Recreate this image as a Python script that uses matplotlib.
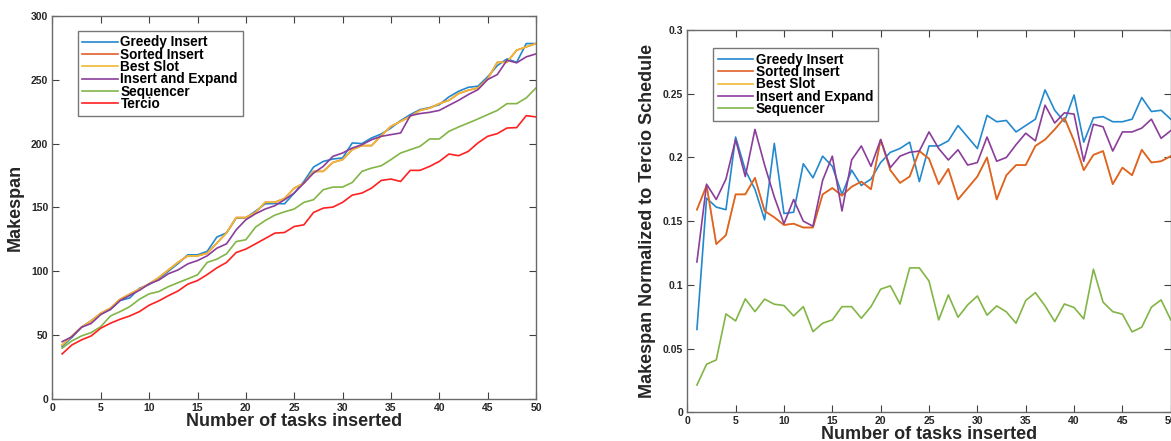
import numpy as np
import matplotlib
matplotlib.use('Agg')
import matplotlib.pyplot as plt

plt.rcParams['font.family'] = ['Liberation Sans', 'DejaVu Sans']
plt.rcParams['font.weight'] = 'bold'

tasks = np.arange(1, 51)

# left panel: makespan
greedy_ms = [41, 48, 56, 61, 66.5, 70, 77, 79, 86.6, 89.5,
             94, 100, 106, 112.8, 112.8, 115.5, 126.7, 130, 141.6, 141.8,
             147, 152.8, 153, 152.8, 161.2, 170.3, 181.6, 186, 187.9, 188.7,
             200.5, 200, 204.4, 207.5, 212.2, 218, 222.7, 226.6, 228.2, 230.5,
             236.6, 241, 244.1, 245, 252.3, 261.1, 266.4, 263.7, 278.4, 278.4]
best_ms = [42, 49, 56, 61, 67, 71, 78, 82, 86, 90,
           95, 101, 107, 112, 112, 114, 122, 130, 142, 142,
           146, 154, 154, 157, 165, 169, 178.2, 178.2, 185.2, 187.4,
           195.2, 198.4, 198.4, 206.2, 213.5, 217.4, 221.3, 226, 227.8, 231.3,
           233.9, 239.2, 241.8, 243.6, 250.7, 263.7, 263.7, 273.2, 275.8, 278.4]
sorted_ms = list(best_ms)
expand_ms = [44.7, 48.5, 56, 59, 66, 70, 77, 81, 85, 90,
             93, 98, 101, 105.7, 108.3, 112, 118, 121.4, 132.4, 140.3,
             145, 148.7, 151.3, 156, 161.2, 169, 176.9, 182.1, 190, 192.6,
             196.5, 199.1, 203, 205.7, 207, 208.3, 221.9, 223.5, 224.5, 226,
             230, 233.9, 238.4, 242.3, 250.2, 254.1, 265.3, 263.3, 268, 270.3]
seq_ms = [39.6, 45.3, 49.2, 51.8, 56.5, 64.9, 68.3, 72.2, 78, 82.2,
          84, 87.9, 91, 94, 97.1, 106.8, 109.4, 113.6, 123.2, 124.6,
          134.5, 139.7, 143.9, 146.5, 148.7, 153.9, 156, 163.8, 165.9, 165.9,
          169.5, 178.2, 180.8, 182.6, 187.4, 192.6, 195.2, 197.8, 203.6, 203.6,
          209.6, 213, 216.1, 219.3, 222.7, 226, 231.3, 231.3, 235.8, 243.6]
tercio_ms = [35.1, 42.1, 46.1, 49.2, 55.3, 59.2, 62.3, 64.9, 68.3, 73.3,
             76.7, 80.8, 84.5, 89.8, 92.6, 97.3, 102.6, 106.8, 114.6, 117.3,
             121.4, 125.6, 129.8, 130.3, 135, 136.3, 146, 149.4, 150.2, 153.9,
             159.6, 161.2, 165.1, 171.1, 172.2, 170.3, 179, 179, 182.1, 186,
             191.8, 190.5, 193.9, 200.5, 205.7, 207.8, 212.2, 212.5, 221.9, 220.9]

# right panel: normalized to Tercio
greedy_n = [0.065, 0.168, 0.161, 0.159, 0.216, 0.19, 0.175, 0.151, 0.211, 0.156,
            0.157, 0.195, 0.184, 0.201, 0.193, 0.171, 0.19, 0.178, 0.183, 0.196,
            0.204, 0.207, 0.212, 0.181, 0.209, 0.209, 0.213, 0.225, 0.216, 0.207,
            0.233, 0.228, 0.229, 0.22, 0.225, 0.23, 0.253, 0.237, 0.228, 0.249,
            0.212, 0.231, 0.232, 0.228, 0.228, 0.23, 0.247, 0.236, 0.237, 0.23]
sorted_n = [0.159, 0.178, 0.132, 0.139, 0.171, 0.171, 0.184, 0.158, 0.153, 0.147,
            0.148, 0.145, 0.145, 0.171, 0.176, 0.17, 0.177, 0.181, 0.175, 0.214,
            0.19, 0.18, 0.185, 0.205, 0.199, 0.179, 0.191, 0.167, 0.176, 0.185,
            0.2, 0.167, 0.186, 0.194, 0.194, 0.209, 0.214, 0.222, 0.231, 0.213,
            0.19, 0.202, 0.205, 0.179, 0.192, 0.186, 0.206, 0.196, 0.197, 0.201]
best_n = list(sorted_n)
expand_n = [0.118, 0.179, 0.167, 0.183, 0.214, 0.185, 0.222, 0.194, 0.169, 0.148,
            0.167, 0.15, 0.146, 0.182, 0.201, 0.158, 0.198, 0.209, 0.193, 0.214,
            0.192, 0.201, 0.204, 0.205, 0.22, 0.207, 0.198, 0.206, 0.194, 0.196,
            0.216, 0.197, 0.2, 0.21, 0.219, 0.213, 0.241, 0.227, 0.235, 0.234,
            0.197, 0.226, 0.224, 0.205, 0.22, 0.22, 0.223, 0.23, 0.215, 0.221]
seq_n = [0.0214, 0.0377, 0.0411, 0.0772, 0.0717, 0.089, 0.079, 0.0888, 0.0848, 0.0838,
         0.0756, 0.0829, 0.0633, 0.0699, 0.0725, 0.0829, 0.0829, 0.0738, 0.0829, 0.0966,
         0.0992, 0.085, 0.1133, 0.1133, 0.103, 0.0725, 0.0921, 0.0746, 0.0843, 0.0913,
         0.0762, 0.0835, 0.0788, 0.0699, 0.0877, 0.0939, 0.0835, 0.0712, 0.085, 0.0822,
         0.0733, 0.1123, 0.0864, 0.079, 0.077, 0.0631, 0.0668, 0.0825, 0.0882, 0.0725]

# matlab-ish colours, a touch lighter like the scan
c_greedy = '#2389cf'
c_sorted = '#e0602c'
c_best = '#efb935'
c_expand = '#8a3d9a'
c_seq = '#82b546'
c_tercio = '#ff2020'

spine_col = '#6a6a6a'


def style_axes(ax):
    for s in ax.spines.values():
        s.set_color(spine_col)
        s.set_linewidth(1.0)
    ax.tick_params(direction='in', top=True, right=True, length=5,
                   width=0.8, color='#404040', labelsize=7.5, pad=3)
    for lab in ax.get_xticklabels() + ax.get_yticklabels():
        lab.set_fontweight('bold')
        lab.set_color('#262626')


fig = plt.figure(figsize=(11.71, 4.41), dpi=100)
ax1 = fig.add_axes([0.0448, 0.0959, 0.4129, 0.8678])
ax2 = fig.add_axes([0.5869, 0.0651, 0.4129, 0.8669])

lw = 1.2
ax1.plot(tasks, greedy_ms, color=c_greedy, lw=lw, label='Greedy Insert')
ax1.plot(tasks, sorted_ms, color=c_sorted, lw=lw, label='Sorted Insert')
ax1.plot(tasks, best_ms, color=c_best, lw=lw, label='Best Slot')
ax1.plot(tasks, expand_ms, color=c_expand, lw=lw, label='Insert and Expand')
ax1.plot(tasks, seq_ms, color=c_seq, lw=lw, label='Sequencer')
ax1.plot(tasks, tercio_ms, color=c_tercio, lw=lw, label='Tercio')
ax1.set_xlim(0, 50)
ax1.set_ylim(0, 300)
ax1.set_xticks(np.arange(0, 51, 5))
ax1.set_yticks(np.arange(0, 301, 50))
style_axes(ax1)
ax1.set_xlabel('Number of tasks inserted', fontsize=13, fontweight='bold',
               color='#262626', labelpad=0)
ax1.set_ylabel('Makespan', fontsize=13, fontweight='bold', color='#262626',
               labelpad=5)
leg1 = ax1.legend(loc='upper left', bbox_to_anchor=(0.052, 0.962), fontsize=9.8,
                  frameon=True, fancybox=False, handlelength=2.6,
                  handletextpad=0.2, labelspacing=-0.12, borderpad=0.35,
                  borderaxespad=0)
leg1.get_frame().set_edgecolor('#555555')
leg1.get_frame().set_linewidth(1.0)
for t in leg1.get_texts():
    t.set_fontweight('bold')

l_g, = ax2.plot(tasks, greedy_n, color=c_greedy, lw=lw, label='Greedy Insert')
l_b, = ax2.plot(tasks, best_n, color=c_best, lw=lw, label='Best Slot')
l_s, = ax2.plot(tasks, sorted_n, color=c_sorted, lw=lw, label='Sorted Insert')
l_e, = ax2.plot(tasks, expand_n, color=c_expand, lw=lw, label='Insert and Expand')
l_q, = ax2.plot(tasks, seq_n, color=c_seq, lw=lw, label='Sequencer')
ax2.set_xlim(0, 50)
ax2.set_ylim(0, 0.3)
ax2.set_xticks(np.arange(0, 51, 5))
ax2.set_yticks(np.arange(0, 0.31, 0.05))
ax2.set_yticklabels(['0', '0.05', '0.1', '0.15', '0.2', '0.25', '0.3'])
style_axes(ax2)
ax2.set_xlabel('Number of tasks inserted', fontsize=13, fontweight='bold',
               color='#262626', labelpad=0)
ax2.set_ylabel('Makespan Normalized to Tercio Schedule', fontsize=13,
               fontweight='bold', color='#262626', labelpad=5)
leg2 = ax2.legend([l_g, l_s, l_b, l_e, l_q],
                  ['Greedy Insert', 'Sorted Insert', 'Best Slot',
                   'Insert and Expand', 'Sequencer'],
                  loc='upper left', bbox_to_anchor=(0.053, 0.953), fontsize=9.8,
                  frameon=True, fancybox=False, handlelength=2.6,
                  handletextpad=0.2, labelspacing=-0.12, borderpad=0.35,
                  borderaxespad=0)
leg2.get_frame().set_edgecolor('#555555')
leg2.get_frame().set_linewidth(1.0)
for t in leg2.get_texts():
    t.set_fontweight('bold')

fig.savefig('out.png', dpi=100)
